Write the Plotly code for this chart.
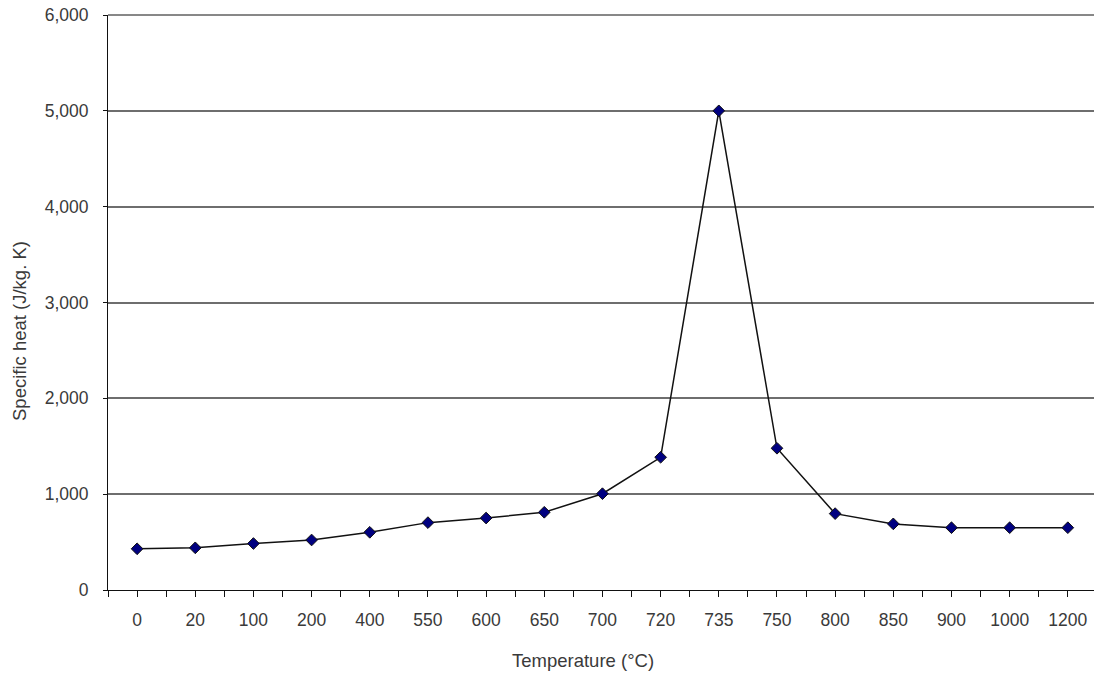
import plotly.graph_objects as go

# Temperature categories (°C) and specific heat values (J/kg·K)
temperatures = ["0", "20", "100", "200", "400", "550", "600", "650", "700",
                "720", "735", "750", "800", "850", "900", "1000", "1200"]
specific_heat = [430, 440, 485, 522, 602, 703, 751, 811, 1005,
                 1385, 5000, 1479, 797, 690, 650, 650, 650]
y_ticks = [0, 1000, 2000, 3000, 4000, 5000, 6000]
y_tick_text = ["0", "1,000", "2,000", "3,000", "4,000", "5,000", "6,000"]

positions = list(range(len(temperatures)))

W, H = 1094, 673
ML, MR, MT, MB = 108, 0, 15, 83
FONT = "Liberation Sans, Arial, sans-serif"
TEXT = "#3a3a3a"
TICK_SIZE = 17.5
TITLE_SIZE = 18.5

fig = go.Figure()
fig.add_trace(go.Scatter(
    x=positions, y=specific_heat, mode="lines+markers",
    line=dict(color="#111111", width=1.5),
    marker=dict(symbol="diamond", size=9, color="#000080",
                line=dict(color="#111111", width=1)),
    showlegend=False, cliponaxis=False,
))

fig.update_layout(
    width=W, height=H,
    margin=dict(l=ML, r=MR, t=MT, b=MB, pad=0),
    paper_bgcolor="white", plot_bgcolor="white",
    font=dict(family=FONT, size=TICK_SIZE, color=TEXT),
    xaxis=dict(
        range=[-0.5, 16.45], tickmode="array", tickvals=positions,
        ticktext=temperatures, ticks="outside", ticklen=6, tickcolor="#111111",
        tickwidth=1, showgrid=False, zeroline=False,
        showline=True, linecolor="#111111", linewidth=1,
        minor=dict(ticks="outside", tickmode="linear", tick0=-0.5, dtick=1,
                   ticklen=6, tickcolor="#111111", tickwidth=1, showgrid=False),
        ticklabelstandoff=8,
        tickfont=dict(size=TICK_SIZE, color=TEXT),
    ),
    yaxis=dict(
        range=[0, 6000], tickmode="array", tickvals=y_ticks, ticktext=y_tick_text,
        ticks="outside", ticklen=4, tickcolor="#111111",
        showgrid=True, gridcolor="#6e6e6e", gridwidth=1.5,
        zeroline=False, showline=True, linecolor="#111111", linewidth=1,
        mirror=False, ticklabelstandoff=11,
        tickfont=dict(size=TICK_SIZE, color=TEXT),
    ),
    shapes=[dict(type="line", xref="paper", yref="paper", x0=0, x1=1, y0=1, y1=1,
                 line=dict(color="#111111", width=1))],
    annotations=[
        dict(text="Temperature (°C)", xref="paper", yref="paper",
             x=(583 - ML) / (W - ML - MR), y=0, yshift=-70,
             xanchor="center", yanchor="middle", showarrow=False,
             font=dict(size=TITLE_SIZE, color=TEXT, family=FONT)),
        dict(text="Specific heat (J/kg. K)", xref="paper", yref="paper",
             x=0, xshift=-(ML - 19), y=(H - MB - 331) / (H - MT - MB),
             xanchor="center", yanchor="middle", textangle=-90, showarrow=False,
             font=dict(size=TITLE_SIZE, color=TEXT, family=FONT)),
    ],
)

fig.write_html("out.html")
